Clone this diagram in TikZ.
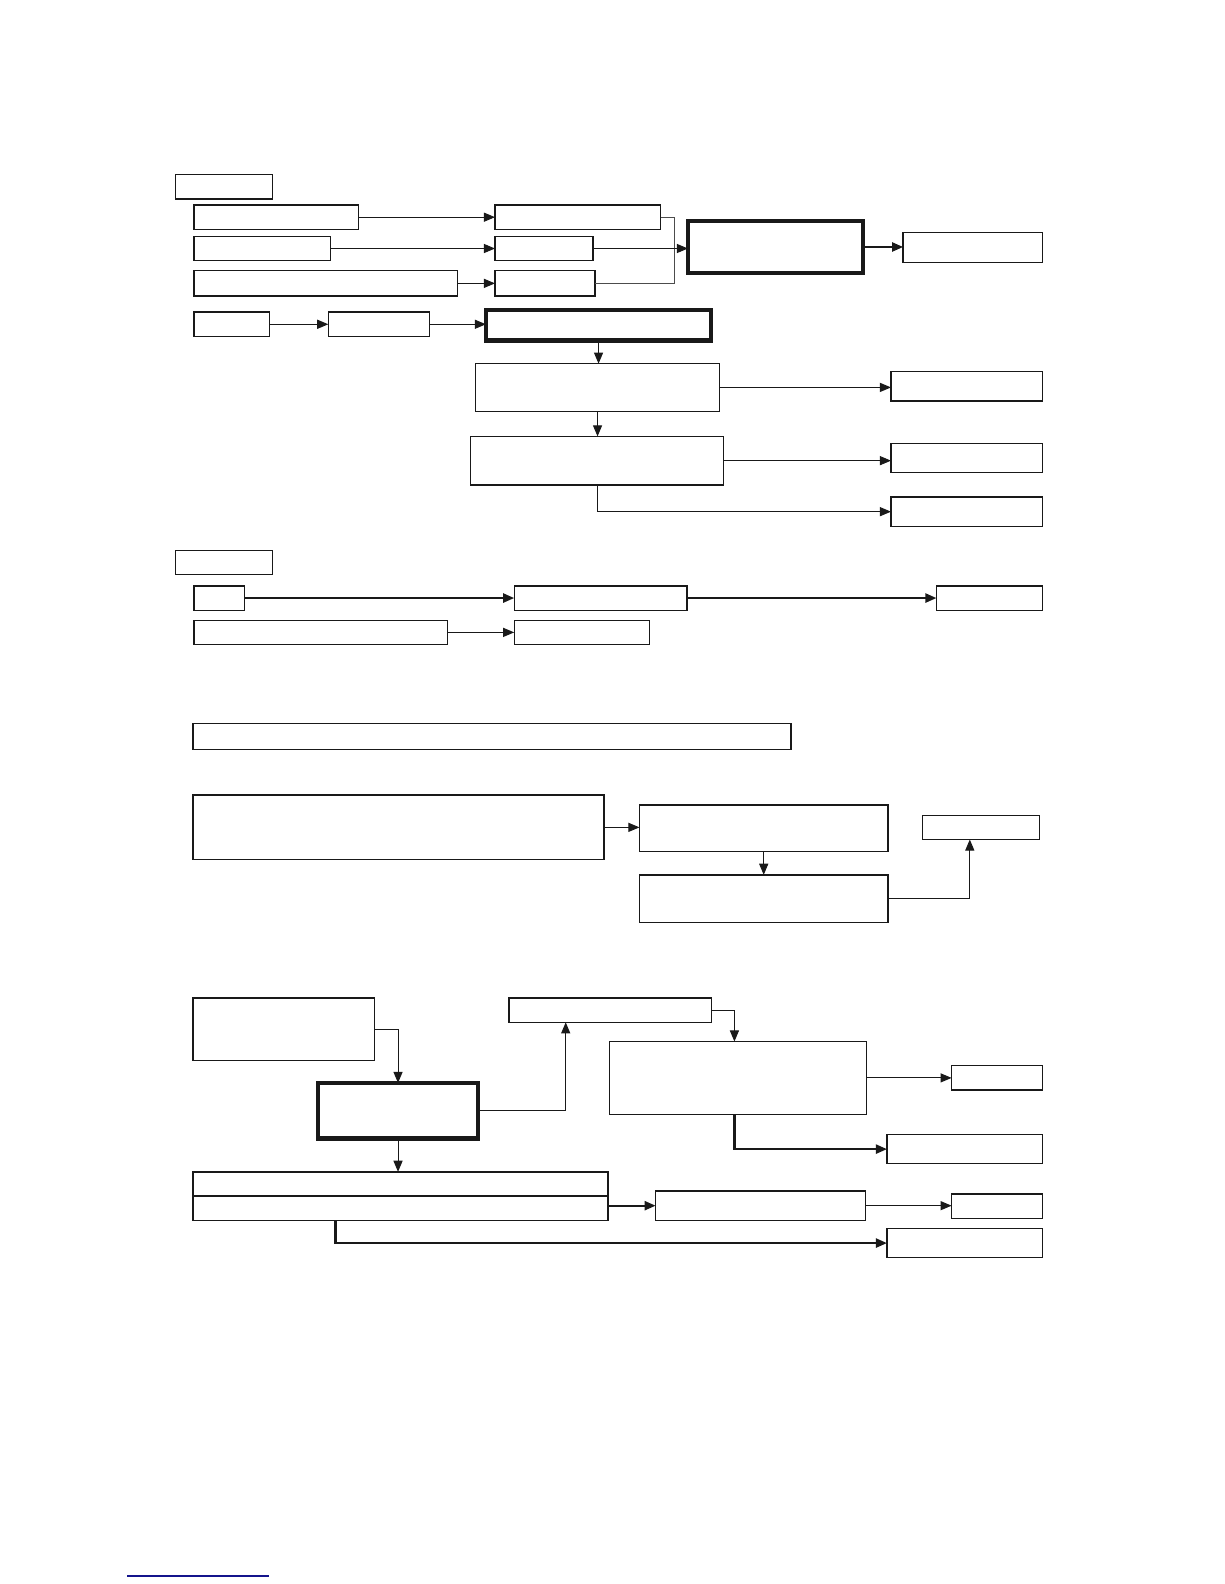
\documentclass[tikz,border=0pt]{standalone}
\usetikzlibrary{arrows.meta}
\newcommand\bx[6]{\node[#1, anchor=north west, minimum width={(#5-#3)*1pt}, minimum height={(#6-#4)*1pt}] (#2) at (#3,#4) {};}
\tikzset{
  box/.style={draw=black!90, line width=1.3pt, inner sep=0pt, outer sep=0pt, fill=white},
  bigbox/.style={draw=black!90, line width=4.2pt, inner sep=0pt, outer sep=0pt, fill=white},
  arr/.style={draw=black!90, line width=1pt, -{Triangle[length=11pt,width=9pt]}},
  tarr/.style={draw=black!90, line width=2.2pt, -{Triangle[length=11pt,width=9pt]}},
  ln/.style={draw=black!70, line width=1pt},
}
\begin{document}
\begin{tikzpicture}[x=1pt,y=-1pt]
\useasboundingbox (0,0) rectangle (1212,1568);
% ---------- section 1 ----------
\bx{box}{A0}{174}{173}{270}{197}
\bx{box}{L1}{192}{203}{355}{227}
\bx{box}{R1}{490}{203}{654}{227}
\bx{box}{L2}{192}{234}{327}{258}
\bx{box}{R2}{490}{234}{587}{258}
\bx{box}{L3}{192}{268}{453}{293}
\bx{box}{R3}{490}{268}{589}{293}
\bx{bigbox}{B1}{681}{219}{854}{270}
\bx{box}{O1}{894}{230}{1032}{260}
\coordinate (mx) at (668,0);
\draw[arr] (L1.east) -- (R1.west);
\draw[arr] (L2.east) -- (R2.west);
\draw[arr] (L3.east) -- (R3.west);
\draw[ln] (R1.east) -| (mx |- R3.east) -- (R3.east);
\draw[arr] (R2.east) -- (R2.east -| B1.west);
\draw[tarr] (B1.east) -- (B1.east -| O1.west);
\bx{box}{L4}{192}{309}{267}{333}
\bx{box}{M4}{325}{309}{425}{333}
\bx{bigbox}{B4}{481}{307}{704}{337}
\draw[arr] (L4.east) -- (M4.west);
\draw[arr] (M4.east) -- (M4.east -| B4.west);
\bx{box}{C5}{471}{360}{712}{407}
\bx{box}{O5}{882}{368}{1032}{397}
\bx{box}{C6}{466}{432}{716}{480}
\bx{box}{O6}{882}{439}{1032}{468}
\bx{box}{O7}{882}{492}{1032}{521}
\draw[arr] (B4.south) -- (B4.south |- C5.north);
\draw[arr] (C5.south) -- (C5.south |- C6.north);
\draw[arr] (C5.east) -- (C5.east -| O5.west);
\draw[arr] (C6.east) -- (C6.east -| O6.west);
\draw[arr] (C6.south) |- (O7.west);
% ---------- section 2 ----------
\bx{box}{B0}{174}{545}{270}{569}
\bx{box}{S1}{192}{580}{242}{604}
\bx{box}{S2}{509}{580}{680}{604}
\bx{box}{S3}{927}{580}{1032}{604}
\bx{box}{S4}{192}{614}{443}{638}
\bx{box}{S5}{509}{614}{643}{638}
\draw[tarr] (S1.east) -- (S2.west);
\draw[tarr] (S2.east) -- (S3.west);
\draw[arr] (S4.east) -- (S5.west);
% ---------- section 3 ----------
\bx{box}{W}{191}{716}{783}{742}
\bx{box}{K1}{191}{787}{598}{851}
\bx{box}{K2}{633}{797}{879}{843}
\bx{box}{K3}{633}{866}{879}{913}
\bx{box}{K4}{913}{807}{1029}{831}
\coordinate (k4in) at (960,831);
\draw[arr] (K1.east) -- (K1.east -| K2.west);
\draw[arr] (K2.south) -- (K3.north);
\draw[arr] (K3.east) -| (k4in);
% ---------- section 4 ----------
\bx{box}{D1}{191}{988}{371}{1050}
\bx{bigbox}{D2}{315}{1072}{473}{1127}
\bx{box}{D3}{504}{988}{704}{1012}
\bx{box}{D4}{603}{1031}{858}{1103}
\bx{box}{D5}{942}{1055}{1032}{1079}
\bx{box}{D6}{878}{1123}{1032}{1152}
\bx{box}{D7}{191}{1160}{602}{1208}
\draw[box] (191,1184) -- (602,1184);
\bx{box}{D8}{649}{1179}{857}{1208}
\bx{box}{D9}{942}{1182}{1032}{1206}
\bx{box}{D10}{878}{1216}{1032}{1245}
\coordinate (d3in) at (560,1012);
\coordinate (d4in) at (727,1031);
\coordinate (d7out) at (332,1208);
\coordinate (d4out) at (727,1103);
\draw[arr] (D1.east) -| (D2.north);
\draw[arr] (D2.east) -| (d3in);
\draw[arr] (D3.east) -| (d4in);
\draw[arr] (D4.east) -- (D4.east -| D5.west);
\draw[tarr] (d4out) |- (D6.west);
\draw[arr] (D2.south) -- (D2.south |- D7.north);
\draw[tarr] (D7.east |- D8.west) -- (D8.west);
\draw[arr] (D8.east) -- (D8.east -| D9.west);
\draw[tarr] (d7out) |- (D10.west);
% footer line
\coordinate (f1) at (126,1560);
\coordinate (f2) at (266,1560);
\draw[draw={rgb,255:red,20;green,20;blue,140}, line width=1.5pt] (f1) -- (f2);
\end{tikzpicture}
\end{document}
